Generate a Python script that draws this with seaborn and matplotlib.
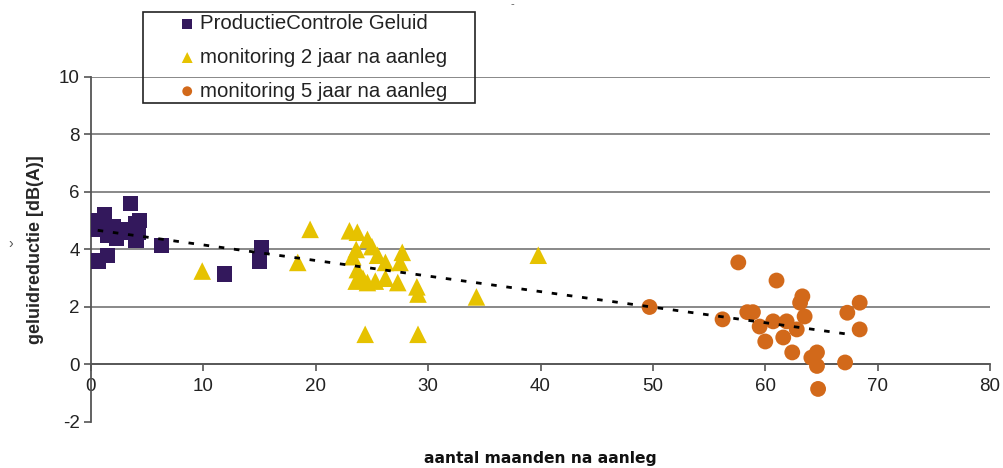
import numpy as np
import pandas as pd
import seaborn as sns
import matplotlib
matplotlib.use("Agg")
import matplotlib.pyplot as plt
from matplotlib.patches import Rectangle

# data
pc_x = [0.3, 0.5, 0.7, 1.0, 1.2, 1.5, 1.5, 2.0, 2.3, 2.8, 3.0, 3.5, 4.0, 4.0, 4.2, 4.3, 6.3, 11.9, 15.0, 15.2]
pc_y = [5.0, 4.7, 3.6, 4.9, 5.2, 3.8, 4.5, 4.8, 4.4, 4.7, 4.6, 5.6, 4.3, 4.9, 4.6, 5.0, 4.15, 3.15, 3.6, 4.07]

m2_x = [9.9, 18.4, 19.5, 23.0, 23.7, 24.6, 25.0, 23.6, 23.3, 25.5, 26.2, 27.7, 27.5,
        23.7, 23.6, 24.2, 24.6, 25.3, 26.2, 27.3, 29.0, 29.1, 24.4, 29.1, 34.3, 39.8]
m2_y = [3.25, 3.55, 4.7, 4.65, 4.6, 4.35, 4.1, 4.0, 3.75, 3.8, 3.55, 3.9, 3.55,
        3.3, 2.9, 3.0, 2.85, 2.9, 3.0, 2.85, 2.7, 2.45, 1.05, 1.05, 2.35, 3.8]

m5_x = [49.7, 56.2, 57.6, 58.4, 58.9, 59.5, 60.0, 60.7, 61.0, 61.6, 61.9, 62.4,
        62.8, 63.1, 63.3, 63.5, 64.1, 64.6, 64.6, 64.7, 67.1, 67.3, 68.4, 68.4]
m5_y = [2.0, 1.57, 3.55, 1.82, 1.82, 1.32, 0.8, 1.5, 2.92, 0.94, 1.5, 0.42,
        1.22, 2.15, 2.37, 1.67, 0.24, 0.42, -0.05, -0.85, 0.07, 1.8, 2.15, 1.22]

labels = ["ProductieControle Geluid", "monitoring 2 jaar na aanleg", "monitoring 5 jaar na aanleg"]
colors = ["#33185c", "#e6c200", "#d2691a"]
markers = ["s", "^", "o"]
sizes = [120, 160, 130]

df = pd.concat([
    pd.DataFrame({"x": pc_x, "y": pc_y, "groep": labels[0]}),
    pd.DataFrame({"x": m2_x, "y": m2_y, "groep": labels[1]}),
    pd.DataFrame({"x": m5_x, "y": m5_y, "groep": labels[2]}),
])

sns.set_style("white")
plt.rcParams["font.family"] = ["Liberation Sans", "DejaVu Sans"]
plt.rcParams["axes.unicode_minus"] = False

fig = plt.figure(figsize=(10.04, 4.68), dpi=100)
ax = fig.add_axes([0.0906, 0.0983, 0.8955, 0.7372])

for lab, c, m, s in zip(labels, colors, markers, sizes):
    sub = df[df["groep"] == lab]
    sns.scatterplot(data=sub, x="x", y="y", ax=ax, color=c, marker=m, s=s,
                    edgecolor="none", label=lab, zorder=3)

# linear trendline over all points
k, b = np.polyfit(df["x"], df["y"], 1)
tx = np.array([0.6, 67.3])
ax.plot(tx, k * tx + b, color="black", linestyle=(0, (2, 3.5)), linewidth=2, zorder=4)

ax.set_xlim(0, 80)
ax.set_ylim(-2, 10)
ax.set_xticks(range(0, 81, 10))
ax.set_yticks(range(-2, 11, 2))

ax.grid(axis="y", color="#7f7f7f", linewidth=1.3)
ax.get_ygridlines()[0].set_visible(False)
ax.grid(axis="x", visible=False)

for side in ["top", "right"]:
    ax.spines[side].set_visible(False)
ax.spines["bottom"].set_position(("data", 0))
ax.spines["bottom"].set_color("#555555")
ax.spines["left"].set_color("#555555")
ax.spines["bottom"].set_linewidth(1.3)
ax.spines["left"].set_linewidth(1.3)
ax.spines["bottom"].set_zorder(2)

ax.tick_params(axis="both", direction="out", length=5, width=1.2, color="#555555",
               labelsize=13.5, labelcolor="#222222", left=True, bottom=True)
ax.tick_params(axis="y", pad=3)
ax.tick_params(axis="x", pad=5)

ax.set_xlabel("")
ax.set_ylabel("geluidreductie [dB(A)]", fontsize=13, fontweight="bold", labelpad=11)
fig.text(0.538, 0.004, "aantal maanden na aanleg", fontsize=11.2, fontweight="bold",
         family="DejaVu Sans", ha="center", va="bottom", color="#111111")

fig.text(0.008, 0.47, "\u203a", fontsize=10, color="#555555")
fig.text(0.508, 0.985, "-", fontsize=8, color="#555555")

# legend without its own frame, boxed by a separate rectangle like the original
leg = ax.legend(loc="upper left", bbox_to_anchor=(0.0957, 1.182), frameon=False,
                fontsize=14.7, markerscale=0.62, handletextpad=0.15, handlelength=1.0,
                borderpad=0, labelspacing=0.72, borderaxespad=0)
for t in leg.get_texts():
    t.set_color("#222222")
fig.patches.append(Rectangle((143 / 1004, 1 - 103 / 468), 332 / 1004, 91 / 468,
                             transform=fig.transFigure, fill=False,
                             edgecolor="#222222", linewidth=1.2))

fig.savefig("out.png", dpi=100)
